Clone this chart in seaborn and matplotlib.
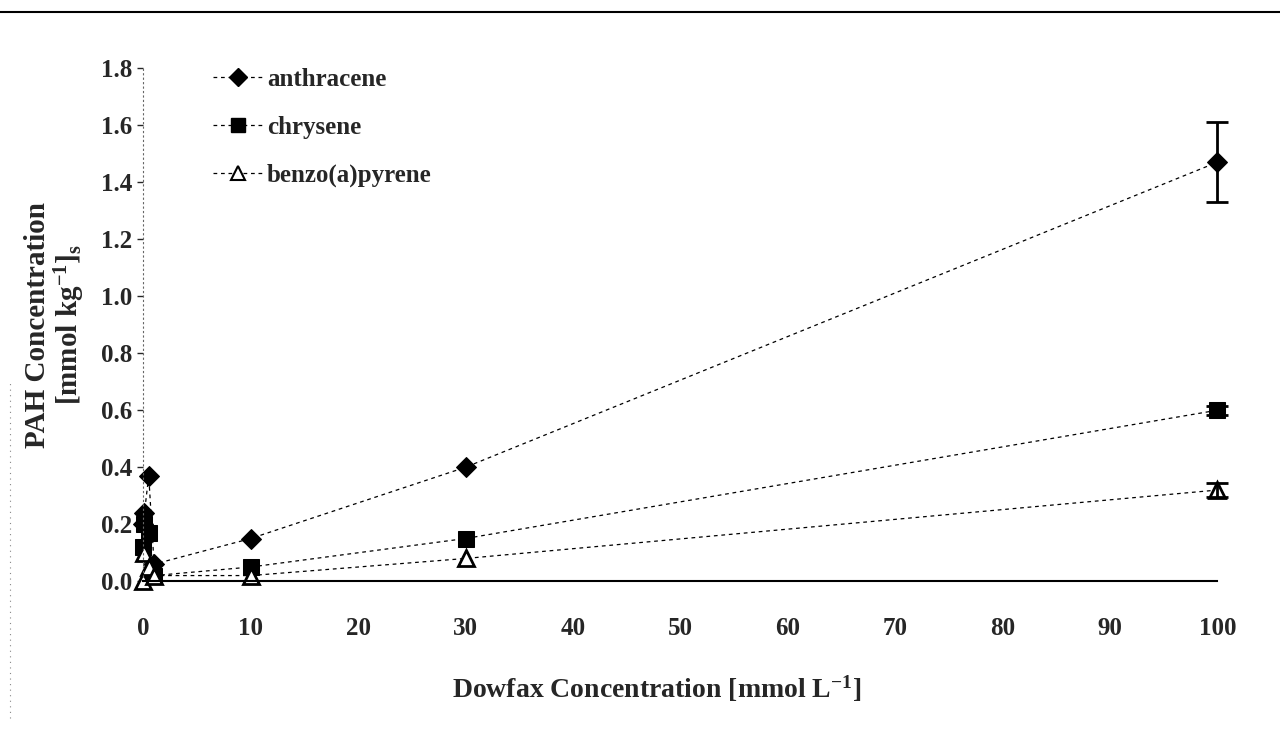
import matplotlib
matplotlib.use('Agg')
import pandas as pd
import matplotlib.pyplot as plt
import seaborn as sns
import numpy as np
from matplotlib.lines import Line2D

# Dowfax concentration [mmol/L]
dowfax = [0, 0.1, 0.5, 1, 10, 30, 100]
anthracene = [0.20, 0.24, 0.37, 0.06, 0.15, 0.40, 1.47]
chrysene = [0.12, 0.20, 0.17, 0.02, 0.05, 0.15, 0.60]
benzo = [0.00, 0.10, 0.05, 0.02, 0.02, 0.08, 0.32]

# error bars at the highest concentration
err_x = [100, 100, 100]
err_y = [1.47, 0.60, 0.32]
err_e = [0.14, 0.015, 0.025]

names = ['anthracene', 'chrysene', 'benzo(a)pyrene']

sns.set_style('white')
plt.rcParams['font.family'] = ['Liberation Serif', 'DejaVu Serif']
plt.rcParams['font.weight'] = 'bold'
plt.rcParams['mathtext.fontset'] = 'custom'
plt.rcParams['mathtext.rm'] = 'Liberation Serif:bold'
plt.rcParams['mathtext.default'] = 'rm'

df = pd.DataFrame({
    'x': dowfax * 3,
    'y': anthracene + chrysene + benzo,
    'compound': [n for n in names for _ in dowfax],
})

fig = plt.figure(figsize=(12.8, 7.33), dpi=100)
ax = fig.add_axes([0.112, 0.207, 0.839, 0.70])

markers = {'anthracene': 'D', 'chrysene': 's', 'benzo(a)pyrene': '^'}
sns.lineplot(data=df, x='x', y='y', hue='compound', style='compound',
             palette=['black'] * 3, markers=markers,
             dashes={n: (3, 3) for n in names}, sort=False,
             markersize=11, linewidth=0.9, legend=False, ax=ax,
             estimator=None)

for line in ax.get_lines():
    line.set_clip_on(False)
    line.set_markeredgecolor('black')
ax.get_lines()[0].set_markersize(10)
ax.get_lines()[2].set_markerfacecolor('white')
ax.get_lines()[2].set_markeredgewidth(2)

ax.errorbar(err_x, err_y, yerr=err_e, fmt='none', ecolor='black',
            elinewidth=2, capsize=8, capthick=2, clip_on=False)

ax.set_xlim(0, 100)
ax.set_ylim(0, 1.8)
ax.set_xticks(np.arange(0, 101, 10))
ax.set_yticks(np.arange(0, 1.81, 0.2))
ax.set_yticklabels(['%.1f' % v for v in np.arange(0, 1.81, 0.2)])
ax.tick_params(axis='y', which='both', direction='out', length=4, width=1,
               pad=4, labelsize=18, left=True)
ax.tick_params(axis='x', length=0, pad=26, labelsize=18)

for s in ['top', 'right']:
    ax.spines[s].set_visible(False)
ax.spines['bottom'].set_color('black')
ax.spines['bottom'].set_linewidth(1.5)
ax.spines['left'].set_color('#666666')
ax.spines['left'].set_linewidth(0.8)
ax.spines['left'].set_linestyle((0, (1, 3)))

ax.set_xlabel(r'Dowfax Concentration [mmol L$^{-1}$]', fontsize=20,
              fontweight='bold', labelpad=24)
ax.xaxis.label.set_x(0.478)
ax.set_ylabel('PAH Concentration\n' + r'[mmol kg$^{-1}$]$_{s}$', fontsize=21,
              fontweight='bold', labelpad=10, linespacing=1.05)

handles = [
    Line2D([], [], color='black', ls=(0, (3, 3)), lw=0.9, marker='D',
           markersize=9, markerfacecolor='black'),
    Line2D([], [], color='black', ls=(0, (3, 3)), lw=0.9, marker='s',
           markersize=10, markerfacecolor='black'),
    Line2D([], [], color='black', ls=(0, (3, 3)), lw=0.9, marker='^',
           markersize=10, markerfacecolor='white', markeredgewidth=1.5),
]
leg = ax.legend(handles, names, loc='upper left', bbox_to_anchor=(0.044, 1.045),
                frameon=False, fontsize=18, handlelength=2.0,
                handletextpad=0.15, labelspacing=1.0)
for t in leg.get_texts():
    t.set_fontweight('bold')

# scan border
fig.add_artist(Line2D([0, 1], [0.983, 0.983], color='black', lw=1.5,
                      transform=fig.transFigure))
fig.add_artist(Line2D([0.008, 0.008], [0.02, 0.48], color='#888888', lw=0.8,
                      ls=(0, (1, 4)), transform=fig.transFigure))

fig.savefig('out.png', dpi=100)
